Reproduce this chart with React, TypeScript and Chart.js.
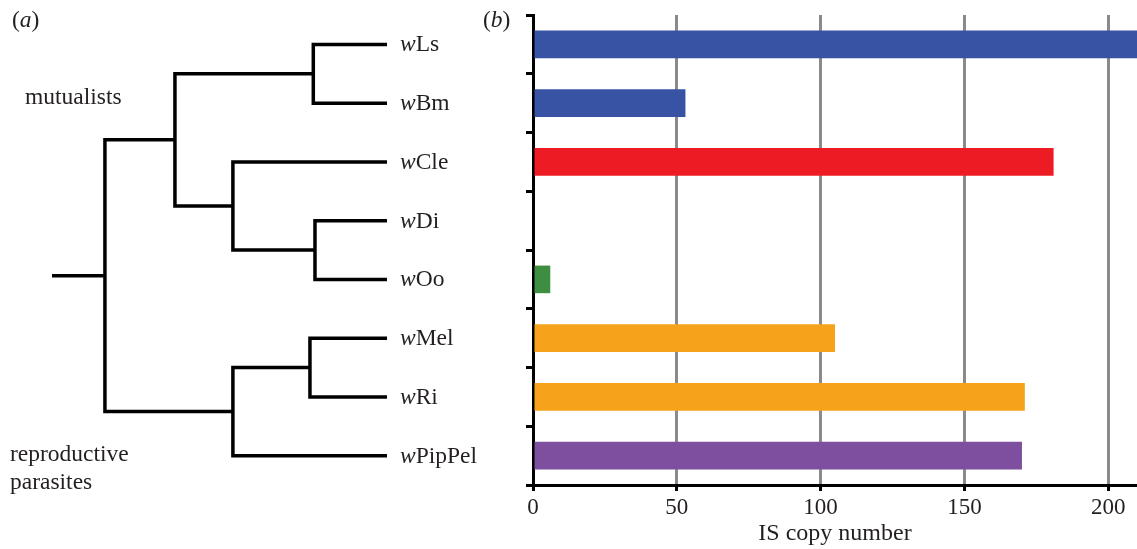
import React, { useEffect, useRef } from "react";
import { Chart, registerables } from "chart.js";

Chart.register(...registerables);

// ---- data ----
const taxa = ["wLs", "wBm", "wCle", "wDi", "wOo", "wMel", "wRi", "wPipPel"];
const isCopyNumber = [215, 53, 181, 0, 6, 105, 171, 170];
const barColors = ["#3953A4", "#3953A4", "#ED1C24", "#3E8E41", "#3E8E41", "#F7A21B", "#F7A21B", "#7F4F9F"];
const xTickValues = [0, 50, 100, 150, 200];
const xMax = 210;

// tree: internal clades (two children each) with their branching depth (leaf depth = 100)
const cladeNames = ["LsBm", "DiOo", "CleDiOo", "Mut", "MelRi", "Par", "Root"];
const cladeUpper = ["wLs", "wDi", "wCle", "LsBm", "wMel", "MelRi", "Mut"];
const cladeLower = ["wBm", "wOo", "DiOo", "CleDiOo", "wRi", "wPipPel", "Par"];
const cladeDepth = [78, 78.5, 54, 36.7, 77, 54, 15.8];
const leafDepth = 100;
const rootStubDepth = 0;

const SERIF = "'Liberation Serif', 'Times New Roman', serif";
const TEXT = "#231f20";

type Part = { t: string; i?: boolean };
function drawParts(ctx: CanvasRenderingContext2D, parts: Part[], x: number, y: number, size: number) {
  let cx = x;
  for (const p of parts) {
    ctx.font = `${p.i ? "italic " : ""}${size}px ${SERIF}`;
    ctx.fillText(p.t, cx, y);
    cx += ctx.measureText(p.t).width;
  }
}

function buildTree() {
  const pos: Record<string, { x: number; y: number }> = {};
  taxa.forEach((t, i) => (pos[t] = { x: leafDepth, y: i }));
  const datasets: any[] = [];
  cladeNames.forEach((name, k) => {
    const a = pos[cladeUpper[k]];
    const b = pos[cladeLower[k]];
    const d = cladeDepth[k];
    pos[name] = { x: d, y: (a.y + b.y) / 2 };
    datasets.push({
      data: [
        { x: a.x, y: a.y },
        { x: d, y: a.y },
        { x: d, y: b.y },
        { x: b.x, y: b.y },
      ],
    });
  });
  const root = pos["Root"];
  datasets.push({ data: [{ x: rootStubDepth, y: root.y }, { x: root.x, y: root.y }] });
  return datasets.map((ds) => ({
    ...ds,
    showLine: true,
    borderColor: "#000",
    borderWidth: 3.5,
    pointRadius: 0,
    borderJoinStyle: "miter",
    borderCapStyle: "butt",
    clip: false,
  }));
}

const treeText = {
  id: "treeText",
  afterDraw(chart: any) {
    const { ctx, scales } = chart;
    ctx.save();
    ctx.fillStyle = TEXT;
    ctx.textBaseline = "alphabetic";
    taxa.forEach((t, i) => {
      const x = scales.x.getPixelForValue(leafDepth) + 13;
      const y = scales.y.getPixelForValue(i) + 7;
      drawParts(ctx, [{ t: "w", i: true }, { t: t.slice(1) }], x, y, 23.5);
    });
    drawParts(ctx, [{ t: "(" }, { t: "a", i: true }, { t: ")" }], 12, 27, 23.5);
    drawParts(ctx, [{ t: "mutualists" }], 25, 104, 23.5);
    drawParts(ctx, [{ t: "reproductive" }], 10, 461, 23.5);
    drawParts(ctx, [{ t: "parasites" }], 10, 489, 23.5);
    ctx.restore();
  },
};

const barText = {
  id: "barText",
  afterDraw(chart: any) {
    const { ctx } = chart;
    ctx.save();
    ctx.fillStyle = TEXT;
    ctx.textBaseline = "alphabetic";
    drawParts(ctx, [{ t: "(" }, { t: "b", i: true }, { t: ")" }], 23, 27, 23.5);
    ctx.restore();
  },
};

export default function App() {
  const treeRef = useRef<HTMLCanvasElement>(null);
  const barRef = useRef<HTMLCanvasElement>(null);

  useEffect(() => {
    const tree = new Chart(treeRef.current!, {
      type: "scatter",
      data: { datasets: buildTree() },
      options: {
        animation: false,
        responsive: false,
        devicePixelRatio: 1,
        layout: { padding: { left: 52, right: 143, top: 15, bottom: 64 } },
        scales: {
          x: { type: "linear", min: 0, max: 100, display: false },
          y: { type: "linear", min: -0.5, max: 7.5, reverse: true, display: false },
        },
        plugins: { legend: { display: false }, tooltip: { enabled: false } },
      },
      plugins: [treeText],
    } as any);

    const bar = new Chart(barRef.current!, {
      type: "bar",
      data: {
        labels: taxa,
        datasets: [
          {
            data: isCopyNumber,
            backgroundColor: barColors,
            borderWidth: 0,
            barPercentage: 0.47,
            categoryPercentage: 1,
          },
        ],
      },
      options: {
        indexAxis: "y",
        animation: false,
        responsive: false,
        devicePixelRatio: 1,
        layout: { padding: { left: 66, right: 0, top: 15, bottom: 0 } },
        scales: {
          x: {
            type: "linear",
            min: 0,
            max: xMax,
            afterBuildTicks: (axis: any) => {
              axis.ticks = xTickValues.map((v) => ({ value: v }));
            },
            afterFit: (axis: any) => {
              axis.height = 64;
            },
            ticks: { color: TEXT, font: { family: SERIF, size: 23 }, padding: 3, maxRotation: 0 },
            grid: {
              color: (c: any) => (c.tick && c.tick.value === 0 ? "rgba(0,0,0,0)" : "#8a8a8a"),
              lineWidth: 3,
              tickColor: "#000",
              tickLength: 6,
              tickWidth: 3,
            },
            border: { color: "#000", width: 3 },
            title: {
              display: true,
              text: "IS copy number",
              color: TEXT,
              font: { family: SERIF, size: 24 },
              padding: { top: 0, bottom: 1 },
            },
          },
          y: {
            ticks: { display: false },
            grid: { drawOnChartArea: false, color: "#000", lineWidth: 3, tickLength: 7, offset: true },
            border: { color: "#000", width: 3 },
          },
        },
        plugins: { legend: { display: false }, tooltip: { enabled: false } },
      },
      plugins: [barText],
    } as any);

    return () => {
      tree.destroy();
      bar.destroy();
    };
  }, []);

  return (
    <div style={{ position: "absolute", left: 0, top: 0, width: 1137, height: 549, background: "#fff" }}>
      <canvas ref={treeRef} width={530} height={549} style={{ position: "absolute", left: 0, top: 0 }} />
      <canvas ref={barRef} width={677} height={549} style={{ position: "absolute", left: 460, top: 0 }} />
    </div>
  );
}
